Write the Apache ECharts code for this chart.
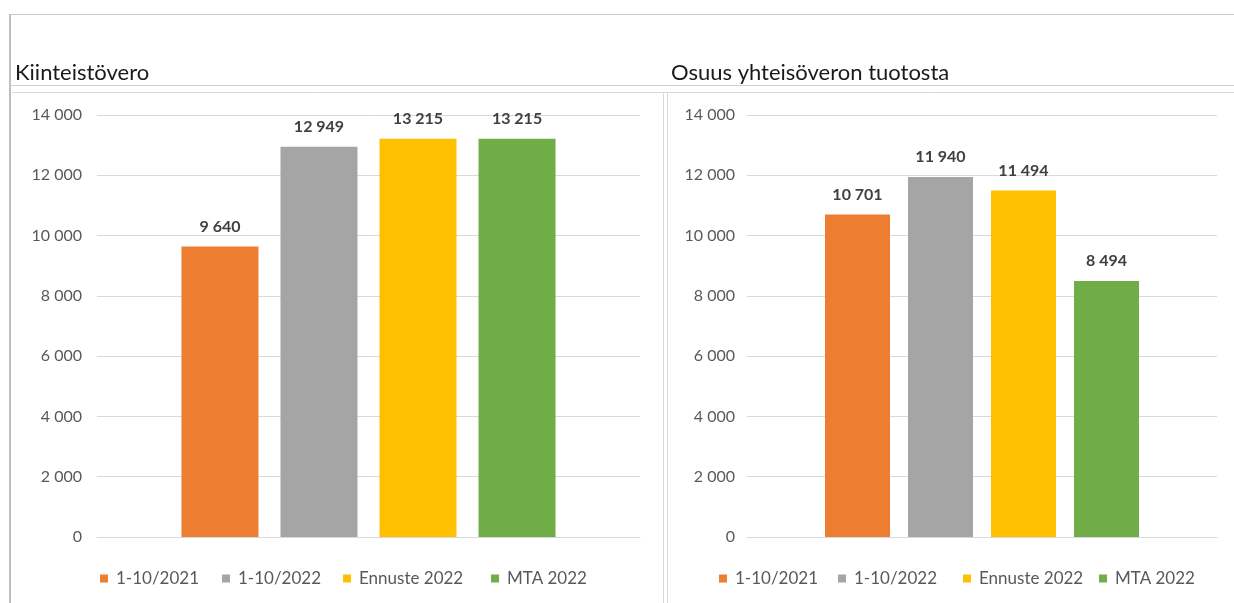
<!DOCTYPE html>
<html lang="fi">
<head>
    <meta charset="UTF-8">
    <title>Kiinteistövero ja yhteisövero</title>
    <script type="text/javascript" src="https://cdn.jsdelivr.net/npm/echarts@6/dist/echarts.min.js"></script>
    <style>
        html, body { margin: 0; padding: 0; background: #fff; }
        #main { width: 1234px; height: 603px; }
    </style>
</head>
<body>
    <div id="main"></div>
    <script type="text/javascript">
        // data
        var sarjat = ['1-10/2021', '1-10/2022', 'Ennuste 2022', 'MTA 2022'];
        var varit = ['#ED7D31', '#A5A5A5', '#FFC000', '#70AD47'];
        var kiinteistovero = [9640, 12949, 13215, 13215];
        var yhteisovero = [10701, 11940, 11494, 8494];
        var otsikot = ['Kiinteistövero', 'Osuus yhteisöveron tuotosta'];
        var yMax = 14000;
        var yVali = 2000;

        var fontti = 'Lato, "Open Sans", sans-serif';

        function muoto(v) {
            return String(v).replace(/\B(?=(\d{3})+(?!\d))/g, ' ');
        }

        // legendojen x-paikat (vasen / oikea kaavio)
        var legX = [[100, 222, 343, 491], [719, 838, 963, 1099]];

        var legends = [];
        for (var g = 0; g < 2; g++) {
            for (var i = 0; i < sarjat.length; i++) {
                legends.push({
                    data: [sarjat[i]],
                    left: legX[g][i],
                    top: 570,
                    padding: 0,
                    itemWidth: 8,
                    itemHeight: 8,
                    icon: 'rect',
                    textStyle: {color: '#595959', fontSize: 17, fontFamily: fontti, padding: [0, 0, 0, 3]}
                });
            }
        }

        var series = [];
        var arvot = [kiinteistovero, yhteisovero];
        var leveys = [77, 65];
        for (var g = 0; g < 2; g++) {
            for (var i = 0; i < sarjat.length; i++) {
                series.push({
                    name: sarjat[i],
                    type: 'bar',
                    xAxisIndex: g,
                    yAxisIndex: g,
                    data: [arvot[g][i]],
                    barWidth: leveys[g],
                    barGap: g === 0 ? '28.6%' : '27.7%',
                    itemStyle: {color: varit[i]},
                    label: {
                        show: true,
                        position: 'top',
                        distance: 12,
                        formatter: function (p) { return muoto(p.value); },
                        color: '#404040',
                        fontWeight: 'bold',
                        fontSize: 16,
                        fontFamily: fontti
                    }
                });
            }
        }

        function yAkseli(idx, marg) {
            return {
                type: 'value',
                gridIndex: idx,
                min: 0,
                max: yMax,
                interval: yVali,
                axisLine: {show: false},
                axisTick: {show: false},
                axisLabel: {
                    color: '#595959',
                    fontSize: 16,
                    fontFamily: fontti,
                    margin: marg,
                    formatter: muoto
                },
                splitLine: {lineStyle: {color: '#d9d9d9', width: 1}}
            };
        }

        function xAkseli(idx) {
            return {
                type: 'category',
                gridIndex: idx,
                data: [''],
                axisLine: {lineStyle: {color: '#d9d9d9'}},
                axisTick: {show: false},
                axisLabel: {show: false}
            };
        }

        var viiva = function (x1, y1, x2, y2, c, w) {
            return {
                type: 'line',
                shape: {x1: x1, y1: y1, x2: x2, y2: y2},
                style: {stroke: c, lineWidth: w || 1},
                silent: true
            };
        };

        var myChart = echarts.init(document.getElementById('main'));
        var option = {
            animation: false,
            title: [
                {text: otsikot[0], left: 10, top: 57, textStyle: {color: '#1a1a1a', fontSize: 22, fontWeight: 'normal', fontFamily: fontti}},
                {text: otsikot[1], left: 666, top: 57, textStyle: {color: '#1a1a1a', fontSize: 22, fontWeight: 'normal', fontFamily: fontti}}
            ],
            legend: legends,
            grid: [
                {left: 97, right: 594, top: 115, bottom: 66},
                {left: 747, right: 17, top: 115, bottom: 66}
            ],
            xAxis: [xAkseli(0), xAkseli(1)],
            yAxis: [yAkseli(0, 15), yAkseli(1, 12)],
            series: series,
            graphic: [
                viiva(10, 14, 10, 603, '#bfbfbf', 2),
                viiva(10, 14.5, 1234, 14.5, '#c8c8c8', 1),
                viiva(10, 85.5, 1234, 85.5, '#d0d0d0', 1),
                viiva(12, 92.5, 1234, 92.5, '#d9d9d9', 1),
                viiva(663.5, 92, 663.5, 603, '#d9d9d9', 1),
                viiva(667.5, 92, 667.5, 603, '#d9d9d9', 1)
            ]
        };
        myChart.setOption(option);
    </script>
</body>
</html>
